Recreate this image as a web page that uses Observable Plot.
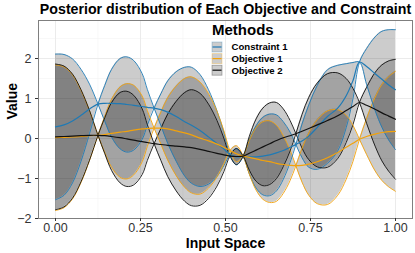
<!DOCTYPE html>
<html>
<head>
<meta charset="utf-8">
<script src="https://cdn.jsdelivr.net/npm/d3@7"></script>
<script src="https://cdn.jsdelivr.net/npm/@observablehq/plot@0.6"></script>
<style>
  html, body { margin: 0; padding: 0; background: #fff; }
  #chart { position: relative; width: 415px; height: 253px; }
  svg { font-family: "Liberation Sans", Arial, sans-serif; }
</style>
</head>
<body>
<div id="chart"></div>
<script>
// ---- data ----
const titleText = "Posterior distribution of Each Objective and Constraint";
const seriesNames = ["Constraint 1", "Objective 1", "Objective 2"];
const seriesColors = ["#1f7ab5", "#f2a20c", "#111111"];
const xTicks = [0, 0.25, 0.5, 0.75, 1];
const yTicks = [-2, -1, 0, 1, 2];

const xs = [0, 0.025, 0.05, 0.075, 0.1, 0.125, 0.145, 0.165, 0.19, 0.21, 0.23, 0.255, 0.27, 0.29,
  0.31, 0.33, 0.355, 0.38, 0.40, 0.425, 0.45, 0.475, 0.495, 0.513, 0.532, 0.552,
  0.57, 0.59, 0.61, 0.63, 0.65, 0.67, 0.69, 0.707, 0.725, 0.745, 0.77, 0.80, 0.83, 0.855, 0.875, 0.894,
  0.915, 0.94, 0.96, 0.98, 1.0];

// signed half-width of the band (band edges are mean + halfWidth and mean - halfWidth)
const halfWidth = [1.82, 1.76, 1.55, 1.15, 0.62, 0, -0.45, -0.85, -1.13, -1.19, -1.12, -0.82, -0.45, 0,
  0.40, 0.78, 1.12, 1.36, 1.45, 1.40, 1.18, 0.82, 0.42, 0, -0.2, 0,
  0.42, 0.78, 0.97, 1.02, 0.95, 0.72, 0.38, 0, -0.42, -0.78, -1.05, -1.17, -1.07, -0.80, -0.45, 0,
  0.45, 0.92, 1.2, 1.38, 1.50];

const meanConstraint1 = [0.29, 0.34, 0.44, 0.58, 0.74, 0.86, 0.88, 0.88, 0.87, 0.85, 0.83, 0.80, 0.78, 0.76,
  0.72, 0.66, 0.55, 0.42, 0.33, 0.20, 0.04, -0.13, -0.26, -0.40, -0.46, -0.45,
  -0.46, -0.46, -0.44, -0.41, -0.36, -0.30, -0.22, -0.15, -0.06, 0.06, 0.28, 0.55, 0.76, 1.07, 1.45, 1.91,
  1.80, 1.62, 1.48, 1.34, 1.22];

const meanObjective1 = [0.02, 0.03, 0.04, 0.05, 0.07, 0.08, 0.10, 0.13, 0.16, 0.18, 0.21, 0.24, 0.25, 0.26,
  0.26, 0.24, 0.19, 0.14, 0.09, 0.01, -0.06, -0.14, -0.22, -0.30, -0.38, -0.44,
  -0.47, -0.51, -0.55, -0.58, -0.62, -0.65, -0.67, -0.68, -0.67, -0.64, -0.58, -0.48, -0.35, -0.22, -0.12, -0.02,
  0.05, 0.11, 0.15, 0.17, 0.18];

const meanObjective2 = [0.04, 0.05, 0.06, 0.07, 0.08, 0.08, 0.07, 0.05, 0.02, -0.01, -0.04, -0.08, -0.10, -0.13,
  -0.15, -0.17, -0.19, -0.21, -0.23, -0.27, -0.32, -0.37, -0.41, -0.44, -0.45, -0.44,
  -0.37, -0.29, -0.21, -0.13, -0.05, 0.02, 0.07, 0.12, 0.18, 0.25, 0.34, 0.45, 0.57, 0.70, 0.80, 0.90,
  0.83, 0.73, 0.64, 0.56, 0.48];

const means = [meanConstraint1, meanObjective1, meanObjective2];

// ---- build table ----
const rows = [];
seriesNames.forEach((name, k) => {
  xs.forEach((x, i) => {
    const m = means[k][i];
    rows.push({series: name, x, mean: m, a: m + halfWidth[i], b: m - halfWidth[i]});
  });
});

const curve = "catmull-rom";
const color = {domain: seriesNames, range: seriesColors};

const plot = Plot.plot({
  width: 415,
  height: 253,
  marginTop: 20,
  marginBottom: 35,
  marginLeft: 38,
  marginRight: 3,
  x: {domain: [-0.05, 1.05]},
  y: {domain: [-2.0, 2.95]},
  color,
  style: {fontFamily: "Liberation Sans, Arial, sans-serif", background: "#fff"},
  marks: [
    Plot.ruleX([0.125, 0.375, 0.625, 0.875], {stroke: "#f4f4f4", strokeWidth: 0.6}),
    Plot.ruleY([-1.5, -0.5, 0.5, 1.5, 2.5], {stroke: "#f4f4f4", strokeWidth: 0.6}),
    Plot.ruleX(xTicks, {stroke: "#ebebeb", strokeWidth: 1}),
    Plot.ruleY(yTicks, {stroke: "#ebebeb", strokeWidth: 1}),
    Plot.areaY(rows, {x: "x", y1: "b", y2: "a", z: "series", fill: "black", fillOpacity: 0.2, curve}),
    Plot.line(rows, {x: "x", y: "a", z: "series", stroke: "series", strokeWidth: 0.9, curve}),
    Plot.line(rows, {x: "x", y: "b", z: "series", stroke: "series", strokeWidth: 0.9, curve}),
    Plot.line(rows, {x: "x", y: "mean", z: "series", stroke: "series", strokeWidth: 1.2, curve}),
    Plot.frame({stroke: "#7f7f7f", strokeWidth: 1}),
    Plot.axisX({ticks: xTicks, tickFormat: d3.format(".2f"), tickSize: 3, tickPadding: 2,
      label: null, fontSize: 12.5, stroke: "#333", color: "#333"}),
    Plot.axisY({ticks: yTicks, tickFormat: d => d < 0 ? "\u2212" + (-d) : String(d), tickSize: 3, tickPadding: 4,
      label: null, fontSize: 12.5, stroke: "#333", color: "#333"}),
    Plot.text([titleText], {frameAnchor: "top", dy: -11, text: d => d, fontSize: 14.2, fontWeight: "bold", fill: "#000", lineAnchor: "middle"}),
    Plot.text(["Input Space"], {frameAnchor: "bottom", dy: 25, text: d => d, fontSize: 14, fontWeight: "bold", fill: "#000", lineAnchor: "middle"}),
    Plot.text(["Value"], {frameAnchor: "left", dx: -26, rotate: -90, text: d => d, fontSize: 14, fontWeight: "bold", fill: "#000", lineAnchor: "middle"})
  ]
});

document.getElementById("chart").appendChild(plot);

// ---- legend inside the panel ----
const svg = d3.select(plot);
const lg = svg.append("g").attr("transform", "translate(212,0)").attr("text-anchor", "start");
lg.append("text").attr("x", 0).attr("y", 35).attr("font-size", 15).attr("font-weight", "bold")
  .attr("text-anchor", "start").attr("fill", "#000").text("Methods");
seriesNames.forEach((name, i) => {
  const cy = 47 + i * 11.6;
  lg.append("rect").attr("x", 0).attr("y", cy - 5).attr("width", 10).attr("height", 10)
    .attr("fill", "#cccccc").attr("stroke", seriesColors[i]).attr("stroke-opacity", 0.35).attr("stroke-width", 0.8);
  lg.append("line").attr("x1", 0.5).attr("x2", 9.5).attr("y1", cy).attr("y2", cy)
    .attr("stroke", seriesColors[i]).attr("stroke-width", 1.2);
  lg.append("text").attr("x", 19.5).attr("y", cy).attr("dy", "0.35em").attr("font-size", 9.6)
    .attr("text-anchor", "start").attr("font-weight", "bold").attr("fill", "#000").text(name);
});
</script>
</body>
</html>
